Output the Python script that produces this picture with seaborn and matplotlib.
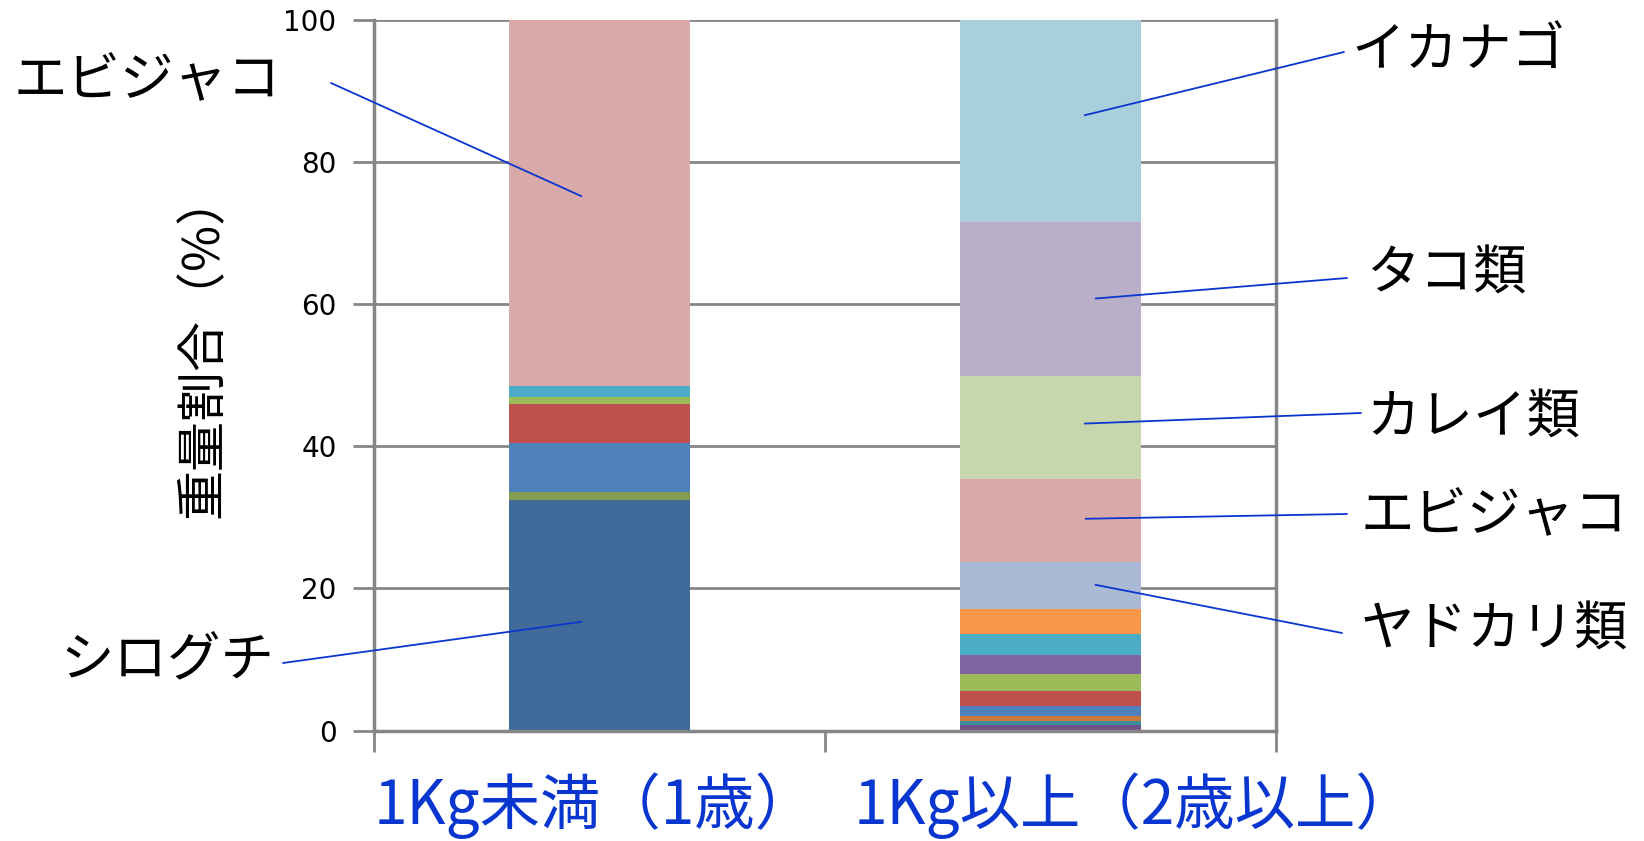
import matplotlib
matplotlib.use("Agg")
import matplotlib.pyplot as plt
import seaborn as sns
import numpy as np

sns.set_theme(style="white")
plt.rcParams["font.family"] = ["Noto Sans CJK JP", "DejaVu Sans"]

# Weight composition (%) of stomach contents, stacked bottom to top
categories = ["1Kg未満（1歳）", "1Kg以上（2歳以上）"]
prey_names = ["シログチ", "種A", "種B", "種C", "種D", "種E", "種F", "種G", "種H",
              "種I", "種J", "ヤドカリ類", "エビジャコ", "カレイ類", "タコ類", "イカナゴ"]
under_1kg = [32.4, 1.1, 0.0, 0.0, 0.0, 6.9, 5.5, 1.1, 0.0,
             1.5, 0.0, 0.0, 51.5, 0.0, 0.0, 0.0]
over_1kg = [0.0, 0.0, 0.77, 0.57, 0.7, 1.45, 2.1, 2.35, 2.7,
            2.9, 3.55, 6.65, 11.65, 14.5, 21.7, 28.41]
prey_colors = ["#3F6A9A", "#839C4F", "#6E5189", "#3B8C9C", "#C8793B", "#4F81BD",
               "#C0504D", "#9BBB59", "#8064A2", "#4BACC6", "#F79646", "#AAB9D6",
               "#D9A9A9", "#C8D6AE", "#BAAFC8", "#A9CEDC"]
yticks = [0, 20, 40, 60, 80, 100]

W, H = 1644, 841
fig = plt.figure(figsize=(W / 100, H / 100), dpi=100)
ax = fig.add_axes([374 / W, 1 - 730.5 / H, (1276 - 374) / W, (730.5 - 20) / H])

grey = "#868686"
ax.set_axisbelow(True)
for t in yticks:
    ax.axhline(t, color=grey, lw=2, zorder=0)

bottom = np.zeros(2)
for name, a, b, c in zip(prey_names, under_1kg, over_1kg, prey_colors):
    vals = np.array([a, b])
    sns.barplot(x=[0, 1], y=vals, bottom=bottom, color=c, width=0.4,
                saturation=1, linewidth=0, ax=ax, native_scale=True, zorder=2)
    bottom = bottom + vals

ax.set_xlim(-0.5, 1.5)
ax.set_ylim(0, 100)
ax.set_yticks(yticks)
ax.set_yticklabels([str(t) for t in yticks], fontsize=20, family="DejaVu Sans",
                   color="#000000")
ax.set_xticks([-0.5, 0.5, 1.5])
ax.set_xticklabels([])
ax.tick_params(axis="y", direction="out", length=15, width=2, color=grey, pad=12, left=True)
ax.tick_params(axis="x", direction="out", length=15, width=2, color=grey, bottom=True)
ax.set_xlabel("")
ax.set_ylabel("")
for side in ["left", "bottom", "right"]:
    ax.spines[side].set_color(grey)
    ax.spines[side].set_linewidth(2.5)
ax.spines["top"].set_visible(False)

# y-axis title
fig.text(204 / W, 1 - 345 / H, "重量割合（%）", rotation=90, ha="center", va="center",
         fontsize=36, color="black")

# category labels
blue = "#0A36D0"
fig.text(595 / W, 1 - 806 / H, categories[0], ha="center", va="center",
         fontsize=43.5, color=blue)
fig.text(1135 / W, 1 - 806 / H, categories[1], ha="center", va="center",
         fontsize=43.5, color=blue)

# leader lines and prey labels: (label, bar x, value, line start px, text left px, text center y px)
callouts = [
    ("エビジャコ", -0.04, 75.2, (331, 83), 14, 81),
    ("シログチ", -0.04, 15.3, (283, 663), 60, 661),
    ("イカナゴ", 1.076, 86.6, (1344, 52), 1351, 50),
    ("タコ類", 1.10, 60.8, (1347, 278), 1366, 273),
    ("カレイ類", 1.076, 43.2, (1361, 413), 1366, 417),
    ("エビジャコ", 1.078, 29.8, (1347, 514), 1361, 516),
    ("ヤドカリ類", 1.10, 20.5, (1342, 633), 1361, 629),
]
for label, bx, by, (sx, sy), tx, ty in callouts:
    ax.annotate("", xy=(bx, by), xycoords="data",
                xytext=(sx, H - sy), textcoords="figure pixels",
                arrowprops=dict(arrowstyle="-", color=blue, lw=1.3,
                                shrinkA=0, shrinkB=0),
                annotation_clip=False, zorder=5)
    fig.text(tx / W, 1 - ty / H, label, ha="left", va="center", fontsize=38.5,
             color="black")

fig.savefig("out.png", dpi=100, facecolor="white")
